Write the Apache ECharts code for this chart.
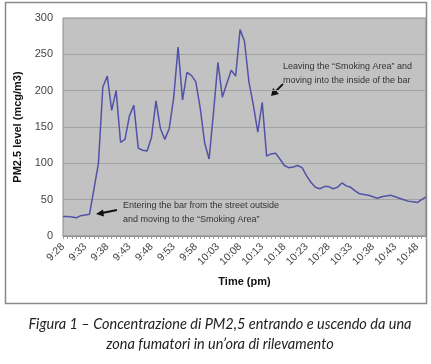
<!DOCTYPE html>
<html>
<head>
<meta charset="utf-8">
<script src="https://cdn.jsdelivr.net/npm/echarts@6/dist/echarts.min.js"></script>
<style>
html,body{margin:0;padding:0;background:#fff;}
#c{width:431px;height:364px;}
</style>
</head>
<body>
<div id="c"></div>
<script>
var categories = ['9:28','9:29','9:30','9:31','9:32','9:33','9:34','9:35','9:36','9:37',
'9:38','9:39','9:40','9:41','9:42','9:43','9:44','9:45','9:46','9:47',
'9:48','9:49','9:50','9:51','9:52','9:53','9:54','9:55','9:56','9:57',
'9:58','9:59','10:00','10:01','10:02','10:03','10:04','10:05','10:06','10:07',
'10:08','10:09','10:10','10:11','10:12','10:13','10:14','10:15','10:16','10:17',
'10:18','10:19','10:20','10:21','10:22','10:23','10:24','10:25','10:26','10:27',
'10:28','10:29','10:30','10:31','10:32','10:33','10:34','10:35','10:36','10:37',
'10:38','10:39','10:40','10:41','10:42','10:43','10:44','10:45','10:46','10:47',
'10:48','10:49','10:50'];
var pm25 = [27,27,26,25,28,29,30,65,100,205,
220,173,200,129,133,165,180,121,118,117,
136,186,148,133,148,190,260,187,225,221,
212,176,128,106,170,239,191,210,228,220,
284,268,212,180,143,184,110,113,114,106,
97,94,95,97,94,83,74,67,65,68,
68,65,67,73,69,67,62,58,57,56,
54,52,54,55,56,54,52,50,48,47,
46,50,54];
var yTicks = [0,50,100,150,200,250,300];

var chart = echarts.init(document.getElementById('c'));
var font = 'Liberation Sans, Arial, sans-serif';
chart.setOption({
  animation:false,
  backgroundColor:'#fff',
  grid:{left:63,right:5,top:18,bottom:128,show:true,backgroundColor:'#c2c2c2',borderColor:'#8a8a8a',borderWidth:1},
  xAxis:{
    type:'category',data:categories,boundaryGap:false,
    name:'Time (pm)',nameLocation:'middle',nameGap:40,
    nameTextStyle:{fontFamily:font,fontWeight:'bold',fontSize:11,color:'#111'},
    axisLine:{lineStyle:{color:'#8a8a8a',width:1}},
    axisTick:{interval:0,length:3,lineStyle:{color:'#999'}},
    axisLabel:{interval:4,rotate:45,fontFamily:font,fontSize:10.5,color:'#444',margin:9},
    splitLine:{show:false}
  },
  yAxis:{
    type:'value',min:yTicks[0],max:yTicks[yTicks.length-1],interval:50,
    name:'PM2.5 level (mcg/m3)',nameLocation:'middle',nameGap:34,
    nameTextStyle:{fontFamily:font,fontWeight:'bold',fontSize:11,color:'#111'},
    axisLine:{show:false},axisTick:{show:false},
    axisLabel:{fontFamily:font,fontSize:11,color:'#444',margin:10},
    splitLine:{lineStyle:{color:'#a2a2a2',width:1}}
  },
  series:[{
    type:'line',data:pm25,showSymbol:false,symbol:'none',
    lineStyle:{color:'#5252a8',width:1.5}
  }],
  graphic:[
    {type:'rect',shape:{x:5.5,y:2.5,width:421,height:301},style:{fill:'none',stroke:'#8a8a8a',lineWidth:1.5},silent:true},
    {type:'text',x:283,y:60,style:{text:'Leaving the \u201cSmoking Area\u201d and\nmoving into the inside of the bar',font:'9px '+font,fill:'#333',lineHeight:14}},
    {type:'line',shape:{x1:283,y1:84,x2:275,y2:92},style:{stroke:'#111',lineWidth:1.8}},
    {type:'polygon',shape:{points:[[271,96],[273,88],[279,94]]},style:{fill:'#111'}},
    {type:'text',x:123,y:199,style:{text:'Entering the bar from the street outside\nand moving to the \u201cSmoking Area\u201d',font:'9px '+font,fill:'#333',lineHeight:14}},
    {type:'line',shape:{x1:117,y1:210,x2:102,y2:213},style:{stroke:'#111',lineWidth:1.8}},
    {type:'polygon',shape:{points:[[96,214],[103,209.5],[104,216.5]]},style:{fill:'#111'}},
    {type:'text',x:220,y:314,style:{text:'Figura 1 \u2013 Concentrazione di PM2,5 entrando e uscendo da una\nzona fumatori in un\u2019ora di rilevamento',font:'italic 14.5px Lato, sans-serif',fill:'#222',align:'center',lineHeight:20}}
  ]
});
</script>
</body>
</html>
